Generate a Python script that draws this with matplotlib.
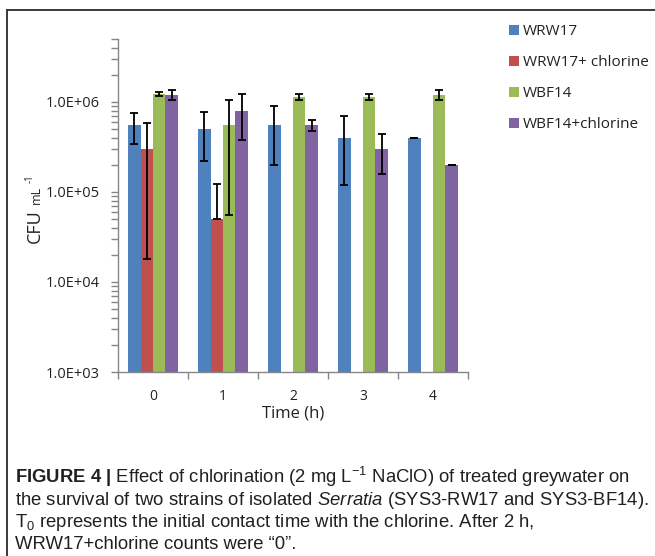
import numpy as np
import matplotlib
matplotlib.use("Agg")
import matplotlib.pyplot as plt
from matplotlib.lines import Line2D
from matplotlib.ticker import FuncFormatter, LogLocator, NullFormatter, FixedLocator

# data (CFU/mL, log axis)
times = ["0", "1", "2", "3", "4"]
labels = ["WRW17", "WRW17+ chlorine", "WBF14", "WBF14+chlorine"]

wrw17 = [5.5e5, 5.0e5, 5.5e5, 4.0e5, 4.0e5]
wrw17_lo = [2.1e5, 2.8e5, 3.5e5, 2.8e5, 0]
wrw17_hi = [2.1e5, 2.8e5, 3.6e5, 2.9e5, 0]

wrw17_cl = [3.0e5, 5.0e4, np.nan, np.nan, np.nan]
wrw17_cl_lo = [2.82e5, 0, 0, 0, 0]
wrw17_cl_hi = [2.85e5, 7.3e4, 0, 0, 0]

wbf14 = [1.22e6, 5.5e5, 1.12e6, 1.12e6, 1.2e6]
wbf14_lo = [0.06e6, 4.95e5, 0.07e6, 0.07e6, 0.16e6]
wbf14_hi = [0.08e6, 5.0e5, 0.1e6, 0.1e6, 0.15e6]

wbf14_cl = [1.2e6, 8.0e5, 5.5e5, 3.0e5, 2.0e5]
wbf14_cl_lo = [0.16e6, 4.2e5, 0.7e5, 1.42e5, 0]
wbf14_cl_hi = [0.15e6, 4.3e5, 0.75e5, 1.35e5, 0]

colors = ["#4F81BD", "#C0504D", "#9BBB59", "#8064A2"]

plt.rcParams["font.family"] = ["Open Sans", "DejaVu Sans"]
plt.rcParams["mathtext.fontset"] = "custom"
plt.rcParams["mathtext.rm"] = "Liberation Sans"
plt.rcParams["mathtext.it"] = "Liberation Sans:italic"
plt.rcParams["mathtext.bf"] = "Liberation Sans:bold"

W, H = 655, 556
fig = plt.figure(figsize=(6.55, 5.56), dpi=100)
ax = fig.add_axes([118 / W, 1 - 372 / H, 350 / W, 333 / H])
ax.set_yscale("log")

x = np.arange(len(times))
w = 0.178
vals = [wrw17, wrw17_cl, wbf14, wbf14_cl]
los = [wrw17_lo, wrw17_cl_lo, wbf14_lo, wbf14_cl_lo]
his = [wrw17_hi, wrw17_cl_hi, wbf14_hi, wbf14_cl_hi]
bars = []
for i in range(4):
    pos = x + (i - 1.5) * w
    b = ax.bar(pos, vals[i], width=w, color=colors[i], label=labels[i])
    bars.append(b)
    ax.errorbar(pos, vals[i], yerr=[los[i], his[i]], fmt="none", ecolor="black",
                elinewidth=1.3, capsize=3, capthick=1.3)

ax.set_ylim(1e3, 5e6)
ax.set_xlim(-0.5, 4.5)

# y axis ticks
ax.yaxis.set_major_locator(FixedLocator([1e3, 1e4, 1e5, 1e6]))
ax.yaxis.set_major_formatter(FuncFormatter(lambda v, p: f"{v:.1E}"))
ax.yaxis.set_minor_locator(LogLocator(base=10, subs=np.arange(2, 10)))
ax.yaxis.set_minor_formatter(NullFormatter())
ax.tick_params(axis="y", which="both", direction="out", length=5, width=1,
               color="#868686", labelsize=10.5, pad=8, labelcolor="#222222")

# x axis: ticks at category borders, labels at centres
ax.set_xticks(np.arange(-0.5, 5, 1))
ax.set_xticklabels([])
ax.set_xticks(x, minor=True)
ax.set_xticklabels(times, minor=True)
ax.tick_params(axis="x", which="major", direction="out", length=5, width=1, color="#868686")
ax.tick_params(axis="x", which="minor", length=0, labelsize=10, pad=12, labelcolor="#222222")

for s in ["top", "right"]:
    ax.spines[s].set_visible(False)
for s in ["left", "bottom"]:
    ax.spines[s].set_color("#868686")
    ax.spines[s].set_linewidth(1)

ax.set_xlabel("Time (h)", fontsize=12, labelpad=1, color="#222222")

# y label built from pieces: "CFU" large, "mL" smaller, "-1" raised
fig.text(40 / W, 1 - 243 / H, "CFU", fontsize=13, rotation=90, rotation_mode="anchor",
         ha="left", va="baseline", color="#222222")
fig.text(40 / W, 1 - 204 / H, "mL", fontsize=9, rotation=90, rotation_mode="anchor",
         ha="left", va="baseline", color="#222222")
fig.text(33 / W, 1 - 183 / H, "-1", fontsize=7, rotation=90, rotation_mode="anchor",
         ha="left", va="baseline", color="#222222")

fig.legend(handles=bars, labels=labels, loc="upper left",
           bbox_to_anchor=(509 / W, 1 - 24 / H), frameon=False, fontsize=11,
           handlelength=0.65, handleheight=0.65, handletextpad=0.25,
           labelspacing=1.05, borderpad=0, borderaxespad=0, labelcolor="#222222")

# frame around the figure panel
fig.add_artist(Line2D([7 / W, 1], [1 - 10 / H, 1 - 10 / H], color="#3a3a3a", lw=1.4))
fig.add_artist(Line2D([7 / W, 7 / W], [0, 1 - 10 / H], color="#3a3a3a", lw=1.4))

# caption
cap = [
    r"$\mathbf{FIGURE\ 4\ |}$ Effect of chlorination (2 mg L$^{-1}$ NaClO) of treated greywater on",
    r"the survival of two strains of isolated $\mathit{Serratia}$ (SYS3-RW17 and SYS3-BF14).",
    r"T$_0$ represents the initial contact time with the chlorine. After 2 h,",
    "WRW17+chlorine counts were \u201c0\u201d.",
]
base = [483, 505, 527, 549]
for line, yb in zip(cap, base):
    fig.text(15 / W, 1 - yb / H, line, fontsize=13.3, va="baseline", ha="left",
             color="#231f20", family=["Liberation Sans", "DejaVu Sans"])

fig.savefig("out.png", dpi=100)
